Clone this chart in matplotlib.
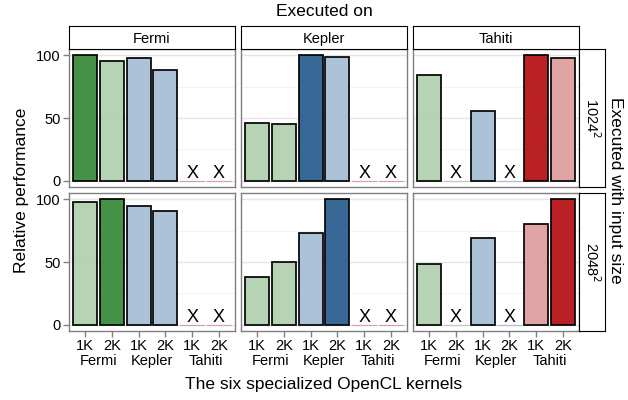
import matplotlib
matplotlib.use("Agg")
import matplotlib.pyplot as plt

plt.rcParams['font.family'] = ['Liberation Sans', 'DejaVu Sans']

devices = ["Fermi", "Kepler", "Tahiti"]
sizes = ["1024", "2048"]
kernel_sizes = ["1K", "2K", "1K", "2K", "1K", "2K"]
kernel_gpus = ["Fermi", "Kepler", "Tahiti"]

# relative performance, None = kernel could not run (X)
perf_1024 = {
    "Fermi": [100, 95.5, 98, 88, None, None],
    "Kepler": [46, 45, 100, 99, None, None],
    "Tahiti": [84, None, 55.5, None, 100, 98],
}
perf_2048 = {
    "Fermi": [97.5, 100, 95, 91, None, None],
    "Kepler": [38, 50, 73, 100, None, None],
    "Tahiti": [48.5, None, 69.5, None, 80, 100],
}
perf = {"1024": perf_1024, "2048": perf_2048}

dark = {"Fermi": "#3d8a3d", "Kepler": "#2d6191", "Tahiti": "#b51518"}
light = {"Fermi": "#b2d1b0", "Kepler": "#a8bfd6", "Tahiti": "#e09fa0"}

W, H = 628, 400
fig = plt.figure(figsize=(W / 100, H / 100), dpi=100)

cols_x = [(69, 235), (241, 407), (413, 579)]
rows_y = [(49, 187), (193, 331)]
strip_top = (26, 49)
strip_right = (579, 605)

def box(x0, x1, y0, y1):
    return [x0 / W, 1 - y1 / H, (x1 - x0) / W, (y1 - y0) / H]

for r, size in enumerate(sizes):
    for c, dev in enumerate(devices):
        ax = fig.add_axes(box(cols_x[c][0], cols_x[c][1], rows_y[r][0], rows_y[r][1]))
        vals = perf[size][dev]
        for i, v in enumerate(vals):
            gpu = kernel_gpus[i // 2]
            ksize = "1024" if i % 2 == 0 else "2048"
            col = dark[gpu] if (gpu == dev and ksize == size) else light[gpu]
            if v is None:
                ax.plot([i - 0.45, i + 0.45], [0, 0], color=col, lw=0.8, zorder=3)
                ax.text(i, -1, "X", ha="center", va="bottom", fontsize=13, zorder=4)
            else:
                ax.bar(i, v, width=0.9, color=col, edgecolor="black", linewidth=1.3,
                       alpha=0.95, zorder=3)
        ax.set_xlim(-0.6, 5.6)
        ax.set_ylim(-5, 105)
        for g in [25, 75]:
            ax.axhline(g, color="#f2f2f2", lw=0.8, zorder=1)
        for g in [0, 50, 100]:
            ax.axhline(g, color="#e5e5e5", lw=1.0, zorder=1)
        for s in ax.spines.values():
            s.set_color("#7f7f7f")
            s.set_linewidth(1.0)
        ax.tick_params(colors="#7f7f7f", length=4, width=1.0, labelcolor="black",
                       labelsize=10.5, pad=2)
        ax.set_yticks([0, 50, 100])
        if c > 0:
            ax.set_yticklabels([])
            ax.tick_params(axis="y", length=0)
        ax.set_xticks(range(6))
        if r == 0:
            ax.set_xticklabels([])
            ax.tick_params(axis="x", length=0)
        else:
            ax.set_xticklabels(kernel_sizes, fontsize=10.5)
            for k, g in enumerate(kernel_gpus):
                ax.text(2 * k + 0.5, -0.217, g, transform=ax.get_xaxis_transform(),
                        ha="center", va="center", fontsize=10.5)

    # right strip
    sax = fig.add_axes(box(strip_right[0], strip_right[1], rows_y[r][0], rows_y[r][1]))
    sax.set_xticks([]); sax.set_yticks([])
    sax.text(0.5, 0.5, size + "$^2$", rotation=-90, ha="center", va="center",
             fontsize=10.5, transform=sax.transAxes)

for c, dev in enumerate(devices):
    sax = fig.add_axes(box(cols_x[c][0], cols_x[c][1], strip_top[0], strip_top[1]))
    sax.set_xticks([]); sax.set_yticks([])
    sax.text(0.5, 0.45, dev, ha="center", va="center", fontsize=10.5,
             transform=sax.transAxes)

fig.text(324 / W, 1 - 12 / H, "Executed on", ha="center", va="center", fontsize=12.5)
fig.text(616 / W, 1 - 190 / H, "Executed with input size", ha="center", va="center",
         rotation=-90, fontsize=12.5)
fig.text(22 / W, 1 - 190 / H, "Relative performance", ha="center", va="center",
         rotation=90, fontsize=12.5)
fig.text(324 / W, 1 - 384 / H, "The six specialized OpenCL kernels", ha="center",
         va="center", fontsize=12.5)

fig.savefig("out.png", dpi=100)
